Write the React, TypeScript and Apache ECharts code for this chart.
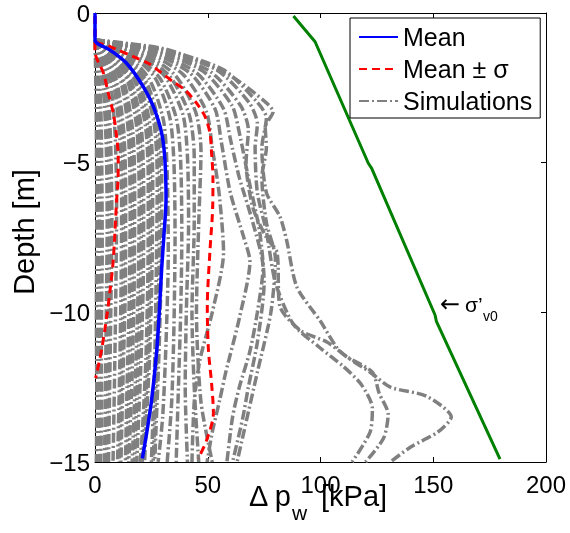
import React, { useEffect, useRef } from 'react';
import * as echarts from 'echarts';

// ---- axis ticks ----
const xTicks = [0, 50, 100, 150, 200];
const yTicks = [-15, -10, -5, 0];

// ---- lines: [Δp_w (kPa), depth (m)] ----
const meanCurve: [number, number][] = [
  [0, 0], [0, -0.9], [6.7, -1.24], [14, -1.68], [21.4, -2.46], [25.9, -3.13], [29.6, -4.02],
  [31, -4.91], [31.5, -6.2], [30.5, -7.5], [29.6, -8.5], [28.5, -10], [27.4, -11.26],
  [25.1, -12.93], [22.9, -14.04], [21, -14.88],
];

const meanPlusSigma: [number, number][] = [
  [0, -0.1], [0, -0.9], [6.7, -1.12], [10.3, -1.24], [17, -1.46], [23.6, -1.68], [28.8, -1.96],
  [34.7, -2.3], [39.9, -2.57], [45.1, -3.02], [48.8, -3.46], [51, -4.02], [51.7, -4.69],
  [52.3, -5.5], [52.2, -6.47], [51, -7.92], [49.8, -9.81], [50.3, -11.26], [51.7, -12.37],
  [52.5, -13.37], [49.5, -14.27], [45.8, -14.88],
];

const meanMinusSigma: [number, number][] = [
  [0, -0.1], [0, -1.29], [3.7, -2.0], [5.9, -2.68], [8.1, -3.35], [9.6, -4.13], [10.3, -4.8],
  [10.2, -5.6], [9.6, -6.25], [8.1, -8.25], [6.7, -9.25], [5.2, -10.15], [2.9, -11.26], [0.3, -12.2],
];

const sigmaV0: [number, number][] = [
  [88, -0.1], [97.6, -0.96], [121.2, -5.02], [122.7, -5.19], [150.8, -10.09], [151.4, -10.3], [179.6, -14.9],
];

const simulations: [number, number][][] = [
  [[0, -0.9], [0.3, -2], [0.6, -4], [0.8, -7], [0.6, -10], [0.8, -13], [0.6, -15]],
  [[0, -0.9], [0.8, -1.8], [1.8, -3.5], [2, -6], [1.8, -9], [2, -12], [1.6, -15]],
  [[0, -0.9], [1.2, -1.6], [2.5, -3], [3, -5], [3.2, -8], [2.8, -11], [3, -13], [2.5, -15]],
  [[0, -0.9], [2, -1.5], [3.8, -2.6], [5, -4.5], [5.4, -7], [5, -10], [4.6, -13], [4.2, -15]],
  [[0, -0.9], [2.6, -1.5], [4.8, -2.6], [6, -4.5], [6.4, -7], [6.2, -10], [5.6, -13], [5, -15]],
  [[0, -0.9], [3, -1.45], [5.6, -2.5], [7, -4.5], [7.5, -7], [7, -10], [6.5, -12.5], [6, -15]],
  [[0, -0.9], [3.8, -1.45], [7.2, -2.5], [9, -4.2], [9.6, -6.5], [9.2, -9.5], [8.6, -12.5], [8, -15]],
  [[0, -0.9], [4.6, -1.45], [8.6, -2.5], [11, -4.2], [11.8, -6.5], [11.5, -9.5], [10.8, -12.5], [10, -15]],
  [[0, -0.9], [5, -1.42], [9.4, -2.45], [12, -4.1], [12.6, -6.5], [12.4, -9.5], [11.6, -12.5], [10.8, -15]],
  [[0, -0.9], [5.4, -1.4], [10, -2.4], [12.8, -4], [13.6, -6], [13.5, -9], [12.5, -12], [11.5, -15]],
  [[0, -0.9], [6.2, -1.4], [11.8, -2.4], [14.8, -4], [15.6, -6.5], [15.2, -9.5], [14.2, -12.5], [13.5, -15]],
  [[0, -0.9], [6.6, -1.4], [12.5, -2.4], [15.8, -4], [16.6, -6.2], [16.4, -9.2], [15.2, -12.2], [14.2, -15]],
  [[0, -0.9], [7, -1.4], [13.2, -2.4], [16.8, -4], [17.6, -6], [17.4, -9], [16.5, -12], [15, -15]],
  [[0, -0.9], [7.8, -1.38], [14.8, -2.35], [18.6, -3.9], [19.6, -6], [19.2, -9], [18, -12], [16.5, -15]],
  [[0, -0.9], [8.2, -1.38], [15.5, -2.32], [19.6, -3.85], [20.6, -6], [20.3, -9], [19, -12], [17.5, -15]],
  [[0, -0.9], [8.6, -1.37], [16.2, -2.3], [20.5, -3.8], [21.6, -6], [21.4, -9], [20.2, -12], [18.5, -15]],
  [[0, -0.9], [9.4, -1.36], [17.8, -2.3], [22.4, -3.8], [23.6, -5.5], [23.5, -8.5], [22.6, -11.5], [21, -14], [20, -15]],
  [[0, -0.9], [9.8, -1.36], [18.5, -2.28], [23.3, -3.75], [24.6, -5.6], [24.4, -8.6], [23.4, -11.6], [21.8, -14], [21, -15]],
  [[0, -0.9], [10.2, -1.35], [19.2, -2.25], [24.3, -3.7], [25.6, -5.5], [25.3, -8.5], [24.2, -11.5], [22.5, -14], [22, -15]],
  [[0, -0.9], [11, -1.34], [20.8, -2.25], [26.2, -3.7], [27.6, -5.5], [27.2, -8.5], [26.5, -11.5], [25.5, -14], [25, -15]],
  [[0, -0.9], [11.4, -1.34], [21.5, -2.22], [27, -3.65], [28.6, -5.5], [28.4, -8.5], [27.4, -11.5], [26.3, -14], [25.8, -15]],
  [[0, -0.9], [11.8, -1.33], [22.2, -2.2], [28, -3.6], [29.6, -5.5], [29.4, -8.5], [28.3, -11.5], [27, -14], [26.5, -15]],
  [[0, -0.9], [12.8, -1.32], [24, -2.2], [30.4, -3.6], [32, -5.3], [32.5, -8], [31.5, -11], [30, -13.5], [28, -15]],
  [[0, -0.9], [14, -1.3], [26.5, -2.15], [33.2, -3.5], [35, -5], [35.5, -7.5], [35, -10.5], [34, -13], [32, -15]],
  [[0, -0.9], [15.2, -1.3], [28.5, -2.15], [36, -3.5], [38, -5], [38.5, -7.5], [38, -10], [37, -12.5], [36, -15]],
  [[0, -0.9], [16.4, -1.28], [30.8, -2.1], [39, -3.4], [41, -4.8], [41.5, -7], [40.5, -10], [40, -12.5], [41, -15]],
  [[0, -0.9], [17.6, -1.27], [33, -2.1], [41.8, -3.4], [44, -4.8], [44, -7], [43, -10], [44, -12.5], [46, -15]],
  [[0, -0.9], [18.8, -1.26], [35.2, -2.05], [44.6, -3.3], [47, -4.6], [46, -7], [45, -10], [47, -13], [52, -15]],
  [[0, -0.9], [20.8, -1.25], [39, -2.05], [49.4, -3.3], [52, -4.5], [55, -6], [57, -8], [52, -10], [46.5, -11.6], [44, -13], [43, -15]],
  [[0, -0.9], [22.4, -1.24], [42, -2], [53.2, -3.2], [56, -4.3], [60, -6], [66, -7.5], [68.7, -8.3], [64, -10.2], [58, -12], [55.4, -12.9], [52, -14], [49.7, -15]],
  [[0, -0.9], [24, -1.24], [45, -2], [57, -3.2], [60, -4.2], [64, -5.5], [70, -7], [74.5, -8.5], [72, -10], [68.7, -11.3], [64, -12.5], [61, -13.5], [58.5, -15]],
  [[0, -0.9], [25.6, -1.23], [48, -1.95], [60.8, -3.1], [64, -4], [68, -5.5], [73, -7.3], [75, -9], [72, -11], [68, -12.5], [65.6, -13.5], [61, -15]],
  [[0, -0.9], [27.2, -1.23], [51, -1.95], [64.6, -3.1], [68, -3.9], [67, -5], [70, -6.5], [76, -7.5], [80.7, -8], [82, -9.8], [91, -10.6], [103, -11], [112, -11.5], [123, -12], [126, -12.7], [130, -13.4], [128, -14.2], [120, -15]],
  [[0, -0.9], [28.8, -1.22], [54, -1.9], [68.4, -3], [72, -3.7], [71, -4.5], [72, -6], [76, -7.3], [80, -9], [88, -10.4], [100, -11.2], [110, -11.8], [118, -12.4], [123, -13.2], [122, -14], [114, -15]],
  [[0, -0.9], [30.4, -1.22], [57, -1.9], [72.2, -3], [76, -3.5], [74, -4.5], [76, -6], [82, -6.8], [85, -7.6], [89.5, -9.15], [100, -10.3], [108.6, -11.3], [122, -12], [131, -12.5], [147, -12.8], [158, -13.5], [152, -14], [140, -14.5], [131, -15]],
  [[0, -0.9], [32, -1.22], [60, -2.1], [76, -3], [79, -3.3], [75.5, -3.8], [76, -4.5], [74, -5.5], [76, -7], [80, -8.2], [78, -10], [72, -12], [66, -14], [63, -15]],
];

const FONT = "'Liberation Sans', Arial, Helvetica, sans-serif";

export default function App() {
  const ref = useRef<HTMLDivElement>(null);

  useEffect(() => {
    if (!ref.current) return;
    const chart = echarts.init(ref.current, null, { renderer: 'svg' });

    const minusFmt = (v: number) => (v < 0 ? '\u2212' + Math.abs(v) : String(v));
    const axisLine = { show: true, onZero: false, lineStyle: { color: '#000', width: 1 } };
    const axisTick = { show: true, inside: true, length: 5, lineStyle: { color: '#000', width: 1 } };

    const xBase = {
      type: 'value' as const,
      min: xTicks[0],
      max: xTicks[xTicks.length - 1],
      interval: xTicks[1] - xTicks[0],
      axisLine,
      axisTick,
      splitLine: { show: false },
    };
    const yBase = {
      type: 'value' as const,
      min: yTicks[0],
      max: yTicks[yTicks.length - 1],
      interval: yTicks[1] - yTicks[0],
      axisLine,
      axisTick,
      splitLine: { show: false },
    };

    const simSeries = simulations.map((pts) => ({
      type: 'line',
      name: 'Simulations',
      data: pts,
      symbol: 'none',
      smooth: 0.25,
      silent: true,
      itemStyle: { color: '#808080', opacity: 0 },
      lineStyle: { color: '#808080', width: 3.5, type: [10, 3, 2, 3] },
    }));

    const textStyle = (t: string, size: number, extra: any = {}) => ({
      text: t,
      x: 0,
      y: 0,
      fill: '#000',
      fontSize: size,
      fontFamily: FONT,
      ...extra,
    });
    const leftMid = { textAlign: 'left', align: 'left', textVerticalAlign: 'middle', verticalAlign: 'middle' };

    chart.setOption({
      animation: false,
      grid: { left: 95, right: 24, top: 13, bottom: 71, containLabel: false },
      xAxis: [
        {
          ...xBase,
          position: 'bottom',
          axisLabel: { show: true, fontSize: 24, color: '#000', margin: 10, fontFamily: FONT },
        },
        { ...xBase, position: 'top', axisLabel: { show: false } },
      ],
      yAxis: [
        {
          ...yBase,
          position: 'left',
          axisLabel: { show: true, fontSize: 24, color: '#000', margin: 5, fontFamily: FONT, formatter: minusFmt },
        },
        { ...yBase, position: 'right', axisLabel: { show: false } },
      ],
      legend: {
        data: ['Mean', 'Mean \u00b1 \u03c3', 'Simulations'],
        orient: 'vertical',
        left: 350,
        top: 18,
        padding: [5, 8, 3, 8],
        itemGap: 4,
        itemWidth: 39,
        itemHeight: 14,
        backgroundColor: '#fff',
        borderColor: '#000',
        borderWidth: 1,
        borderRadius: 0,
        itemStyle: { opacity: 0, borderWidth: 0 },
        textStyle: { fontSize: 25, color: '#000', fontFamily: FONT, lineHeight: 28 },
        selectedMode: false,
      },
      graphic: [
        {
          type: 'text',
          x: 24,
          y: 232,
          rotation: Math.PI / 2,
          style: textStyle('Depth [m]', 29, { textAlign: 'center', align: 'center', textVerticalAlign: 'middle', verticalAlign: 'middle' }),
        },
        { type: 'text', x: 249, y: 496, style: textStyle('\u0394 p', 29, leftMid) },
        { type: 'text', x: 292, y: 512, style: textStyle('w', 21, leftMid) },
        { type: 'text', x: 321, y: 496, style: textStyle('[kPa]', 29, leftMid) },
        { type: 'text', x: 440, y: 304, style: textStyle('\u2190', 24, { ...leftMid, fontFamily: "'DejaVu Sans', sans-serif" }) },
        { type: 'text', x: 465, y: 304, style: textStyle('\u03c3\u2019', 21, leftMid) },
        { type: 'text', x: 483, y: 316, style: textStyle('v0', 14, leftMid) },
      ],
      series: [
        ...simSeries,
        {
          type: 'line',
          name: 'Mean \u00b1 \u03c3',
          data: meanPlusSigma,
          symbol: 'none',
          smooth: 0.3,
          itemStyle: { color: '#ff0000', opacity: 0 },
          lineStyle: { color: '#ff0000', width: 3, type: [8, 5] },
        },
        {
          type: 'line',
          name: 'Mean \u00b1 \u03c3',
          data: meanMinusSigma,
          symbol: 'none',
          smooth: 0.3,
          itemStyle: { color: '#ff0000', opacity: 0 },
          lineStyle: { color: '#ff0000', width: 3, type: [8, 5] },
        },
        {
          type: 'line',
          name: 'Mean',
          data: meanCurve,
          symbol: 'none',
          smooth: 0.3,
          itemStyle: { color: '#0000ff', opacity: 0 },
          lineStyle: { color: '#0000ff', width: 3.5, type: 'solid' },
        },
        {
          type: 'line',
          name: 'sigma_v0',
          data: sigmaV0,
          symbol: 'none',
          itemStyle: { color: '#008000', opacity: 0 },
          lineStyle: { color: '#008000', width: 3, type: 'solid' },
        },
      ],
    });

    return () => chart.dispose();
  }, []);

  return <div ref={ref} style={{ position: 'fixed', left: 0, top: 0, width: 570, height: 533 }} />;
}
